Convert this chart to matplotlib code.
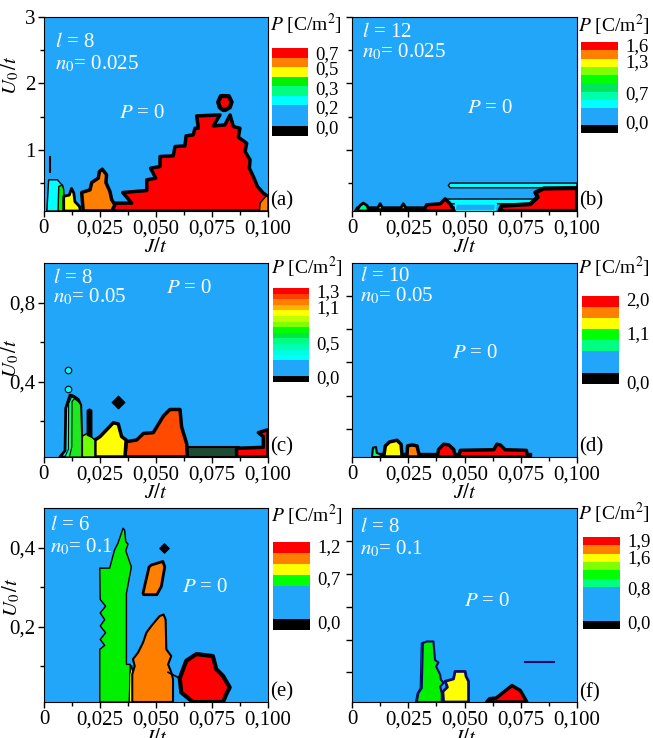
import numpy as np
import matplotlib.pyplot as plt
from matplotlib.colors import ListedColormap, BoundaryNorm
from matplotlib.cm import ScalarMappable

plt.rcParams['font.family'] = 'Liberation Serif'
plt.rcParams['mathtext.fontset'] = 'stix'
plt.rcParams['font.size'] = 15

W, H = 653, 738
BG = '#21a6fa'
RED, ORANGE, YELLOW = '#ff0000', '#ff8000', '#ffff00'
GREEN, SPRING, CYAN = '#00f000', '#00ff80', '#00ffff'
NAVY = '#0a0a60'

x_ticks = [0, 0.025, 0.05, 0.075, 0.1]
x_labels = ['0', '0,025', '0,050', '0,075', '0,100']
x_minor = [0.0125, 0.0375, 0.0625, 0.0875]

# panel parameters: (l, n0)
params = {'a': (8, '0.025'), 'b': (12, '0.025'), 'c': (8, '0.05'),
          'd': (10, '0.05'), 'e': (6, '0.1'), 'f': (8, '0.1')}

# y ranges and ticks
a_ylim, a_yticks, a_ylabels, a_yminor = (0.08, 3.0), [1, 2, 3], ['1', '2', '3'], [0.5, 1.5, 2.5]
c_ylim, c_yticks, c_ylabels, c_yminor = (0.02, 1.0), [0.4, 0.8], ['0,4', '0,8'], [0.2, 0.6]
d_ylim, d_yticks = (0.03, 1.2), [0.2, 0.4, 0.6, 0.8, 1.0]
e_ylim, e_yticks, e_ylabels, e_yminor = (0.01, 0.5), [0.2, 0.4], ['0,2', '0,4'], [0.1, 0.3]
f_ylim, f_yticks = (0.01, 0.6), [0.1, 0.2, 0.3, 0.4, 0.5]

# ---- region boundaries (J/t, U0/t) ----
a_red = [(0.031, 0.08), (0.031, 0.198), (0.0393, 0.198), (0.0353, 0.358), (0.046, 0.388),
         (0.046, 0.549), (0.050, 0.574), (0.0477, 0.724), (0.0519, 0.749), (0.0519, 0.9),
         (0.0578, 0.91), (0.0586, 1.05), (0.063, 1.06), (0.0635, 1.211), (0.0667, 1.226),
         (0.0675, 1.326), (0.069, 1.326), (0.0682, 1.511), (0.0786, 1.526), (0.0757, 1.361),
         (0.0808, 1.376), (0.0831, 1.526), (0.0846, 1.351), (0.0875, 1.326), (0.0868, 1.191),
         (0.0905, 1.1), (0.0898, 0.975), (0.092, 0.85), (0.0917, 0.724), (0.0938, 0.574),
         (0.0953, 0.449), (0.0979, 0.348), (0.1, 0.298), (0.1, 0.08)]
a_island = [(0.0785, 1.64), (0.0778, 1.72), (0.079, 1.81), (0.0825, 1.81), (0.0838, 1.72),
            (0.083, 1.64), (0.081, 1.60), (0.080, 1.60)]
a_orange_r = [(0.0962, 0.08), (0.0965, 0.2), (0.099, 0.30), (0.1, 0.30), (0.1, 0.08)]
a_orange = [(0.0177, 0.08), (0.017, 0.358), (0.0207, 0.398), (0.0215, 0.509), (0.0244, 0.574),
            (0.0249, 0.674), (0.0262, 0.709), (0.0281, 0.624), (0.0278, 0.509), (0.0296, 0.373),
            (0.0304, 0.248), (0.0318, 0.173), (0.0304, 0.08)]
a_cyan = [(0.0015, 0.08), (0.0023, 0.55), (0.0062, 0.55), (0.0082, 0.47), (0.0085, 0.08)]
a_green = [(0.0065, 0.08), (0.0068, 0.45), (0.0085, 0.47), (0.009, 0.40), (0.0095, 0.08)]
a_yellow = [(0.009, 0.08), (0.009, 0.30), (0.0115, 0.32), (0.0125, 0.42), (0.0135, 0.35),
            (0.014, 0.22), (0.016, 0.15), (0.0165, 0.08)]
a_mark_J, a_mark_U = [0.0029, 0.0029], [0.67, 0.90]

b_cyan_top = [(0.0436, 0.43), (0.0428, 0.465), (0.0436, 0.50), (0.1, 0.50), (0.1, 0.43)]
b_cyan_low = [(0.0425, 0.19), (0.0418, 0.225), (0.0425, 0.26), (0.083, 0.26), (0.08, 0.19)]
b_pocket = [(0.0455, 0.08), (0.0462, 0.19), (0.064, 0.19), (0.0635, 0.08)]
b_base = [(0.0012, 0.08), (0.0022, 0.14), (0.0454, 0.14), (0.0454, 0.08)]
b_bump_green = [(0.002, 0.08), (0.0035, 0.16), (0.005, 0.20), (0.0068, 0.16), (0.0075, 0.08)]
b_bump_yellow = [(0.011, 0.10), (0.0125, 0.19), (0.014, 0.10)]
b_bump_orange = [(0.0212, 0.10), (0.0228, 0.19), (0.0244, 0.10)]
b_red_left = [(0.0318, 0.08), (0.0332, 0.173), (0.0392, 0.188), (0.0414, 0.263),
              (0.0436, 0.188), (0.0454, 0.08)]
b_red_right = [(0.0655, 0.08), (0.0666, 0.158), (0.0792, 0.183), (0.0825, 0.288),
               (0.0815, 0.358), (0.0852, 0.419), (0.1, 0.425), (0.1, 0.08)]

c_dots_J, c_dots_U = [0.0111, 0.0108], [0.462, 0.361]
c_diamond_J, c_diamond_U = [0.0333], [0.296]
c_dark = [(0.0641, 0.02), (0.0641, 0.072), (0.087, 0.072), (0.087, 0.02)]
c_red = [(0.086, 0.02), (0.086, 0.064), (0.0979, 0.069), (0.0979, 0.123), (0.0957, 0.143),
         (0.0994, 0.156), (0.1, 0.156), (0.1, 0.02)]
c_orange = [(0.0363, 0.02), (0.0368, 0.097), (0.0415, 0.106), (0.0445, 0.139), (0.0489, 0.143),
            (0.0534, 0.227), (0.0563, 0.26), (0.0608, 0.26), (0.0615, 0.173), (0.0638, 0.086),
            (0.0641, 0.02)]
c_yellow = [(0.0229, 0.02), (0.0229, 0.106), (0.0252, 0.123), (0.0311, 0.193), (0.0333, 0.187),
            (0.0348, 0.123), (0.0368, 0.106), (0.0363, 0.02)]
c_lgreen = [(0.017, 0.02), (0.017, 0.123), (0.0195, 0.14), (0.0215, 0.12), (0.0229, 0.106),
            (0.0229, 0.02)]
c_bar = [(0.0195, 0.13), (0.0195, 0.255), (0.0205, 0.262), (0.0215, 0.255), (0.0215, 0.12)]
c_spike_cyan = [(0.0073, 0.02), (0.0096, 0.052), (0.0099, 0.266), (0.0118, 0.333), (0.0133, 0.328),
                (0.0155, 0.311), (0.0166, 0.282), (0.017, 0.123), (0.017, 0.02)]
c_spike_spring = [(0.0095, 0.02), (0.0111, 0.06), (0.0112, 0.29), (0.0125, 0.325), (0.0155, 0.305),
                  (0.0166, 0.282), (0.017, 0.123), (0.017, 0.02)]
c_spike_green = [(0.0115, 0.02), (0.0126, 0.07), (0.0127, 0.30), (0.0137, 0.315), (0.0155, 0.300),
                 (0.0166, 0.282), (0.017, 0.123), (0.017, 0.02)]

d_base = [(0.0126, 0.03), (0.0126, 0.055), (0.0795, 0.055), (0.0795, 0.03)]
d_spring = [(0.0089, 0.03), (0.0093, 0.086), (0.0107, 0.09), (0.011, 0.055), (0.0126, 0.046),
            (0.0129, 0.03)]
d_yellow = [(0.0141, 0.03), (0.0148, 0.097), (0.0167, 0.121), (0.020, 0.131), (0.0218, 0.107),
            (0.0222, 0.046), (0.0222, 0.03)]
d_orange = [(0.0244, 0.03), (0.0247, 0.097), (0.0267, 0.103), (0.0289, 0.097), (0.0296, 0.056),
            (0.030, 0.03)]
d_red1 = [(0.0378, 0.03), (0.0385, 0.076), (0.0407, 0.107), (0.043, 0.103), (0.0452, 0.076),
          (0.0459, 0.03)]
d_red2 = [(0.0474, 0.03), (0.0481, 0.07), (0.063, 0.074), (0.0644, 0.107), (0.0659, 0.103),
          (0.0681, 0.074), (0.0775, 0.07), (0.0781, 0.03)]

e_green = [(0.0249, 0.01), (0.0249, 0.143), (0.0271, 0.153), (0.0251, 0.168), (0.0275, 0.185),
           (0.0251, 0.202), (0.0271, 0.218), (0.0251, 0.235), (0.0275, 0.252), (0.0251, 0.269),
           (0.0249, 0.348), (0.0293, 0.348), (0.0315, 0.394), (0.033, 0.411), (0.0353, 0.449),
           (0.036, 0.444), (0.0365, 0.415), (0.0375, 0.409), (0.0365, 0.392), (0.039, 0.351),
           (0.0368, 0.285), (0.0368, 0.105), (0.0385, 0.105), (0.0381, 0.01)]
e_yellow = [(0.0381, 0.01), (0.0383, 0.08), (0.0392, 0.102), (0.0398, 0.08), (0.0396, 0.01)]
e_orange = [(0.0394, 0.01), (0.0394, 0.08), (0.0405, 0.101), (0.0397, 0.118), (0.042, 0.135),
            (0.0442, 0.16), (0.0457, 0.185), (0.0479, 0.202), (0.0516, 0.227), (0.0534, 0.231),
            (0.0543, 0.218), (0.0546, 0.143), (0.0568, 0.126), (0.0554, 0.105), (0.0568, 0.085),
            (0.0576, 0.068), (0.0576, 0.01)]
e_island = [(0.0442, 0.285), (0.0469, 0.351), (0.0479, 0.356), (0.0531, 0.365), (0.0539, 0.351),
            (0.0524, 0.302), (0.0504, 0.281), (0.0445, 0.281)]
e_red = [(0.0606, 0.07), (0.0635, 0.114), (0.068, 0.131), (0.0754, 0.126), (0.0769, 0.093),
         (0.0799, 0.076), (0.0829, 0.047), (0.0814, 0.03), (0.0799, 0.01), (0.0665, 0.01),
         (0.0613, 0.034)]
e_dot_J, e_dot_U = [0.0534], [0.40]
e_link_J, e_link_U = [0.0554, 0.0606], [0.085, 0.07]

f_strip = [(0.0282, 0.01), (0.029, 0.037), (0.0303, 0.052), (0.0308, 0.189), (0.0318, 0.192),
           (0.0318, 0.05), (0.0305, 0.037), (0.030, 0.01)]
f_green = [(0.0288, 0.01), (0.0295, 0.037), (0.031, 0.052), (0.0315, 0.189), (0.0332, 0.194),
           (0.0362, 0.194), (0.0369, 0.138), (0.0384, 0.13), (0.0374, 0.118), (0.0392, 0.093),
           (0.0395, 0.078), (0.0407, 0.068), (0.0392, 0.057), (0.0399, 0.037), (0.0399, 0.01)]
f_yellow = [(0.0407, 0.01), (0.0404, 0.042), (0.0424, 0.055), (0.0414, 0.073), (0.0451, 0.08),
            (0.0458, 0.103), (0.0503, 0.103), (0.0507, 0.088), (0.0518, 0.073), (0.0518, 0.01)]
f_red = [(0.0599, 0.01), (0.0611, 0.02), (0.0641, 0.022), (0.0711, 0.06), (0.0748, 0.045),
         (0.0777, 0.01)]
f_line_J, f_line_U = [0.0767, 0.0899], [0.131, 0.131]

# ---- colour scales (bottom to top) ----
cb_a_colors = ['black', BG, CYAN, SPRING, GREEN, YELLOW, ORANGE, RED]
cb_a_ticks = ['0,0', '0,2', '0,3', '0,5', '0,7']
cb_b_colors = ['black', BG, CYAN, '#00ffaa', '#00e65c', '#00ff00', '#80ff00', YELLOW, ORANGE, RED]
cb_b_ticks = ['0,0', '0,7', '1,3', '1,6']
cb_c_colors = ['black', BG, CYAN, '#00ffe0', '#00ffb0', '#00ff80', '#00e640', '#00ff00',
               '#80ff00', '#c0ff00', YELLOW, '#ffb000', ORANGE, '#ff4000', RED]
cb_c_ticks = ['0,0', '0,5', '1,1', '1,3']
cb_d_colors = ['black', BG, SPRING, '#00ff00', YELLOW, ORANGE, RED]
cb_d_ticks = ['0,0', '1,1', '2,0']
cb_e_colors = ['black', BG, '#00ff00', YELLOW, ORANGE, RED]
cb_e_ticks = ['0,0', '0,7', '1,2']
cb_f_colors = ['black', BG, SPRING, '#00ff00', '#80ff00', YELLOW, ORANGE, RED]
cb_f_ticks = ['0,0', '0,8', '1,6', '1,9']

fig = plt.figure(figsize=(W / 100, H / 100), dpi=100)


def px_rect(x0, y0, x1, y1):
    return [x0 / W, 1 - y1 / H, (x1 - x0) / W, (y1 - y0) / H]


def panel(rect, key, ylim, yticks, ylabels=None, yminor=None, ptext=(0.5, 0.5),
          lpos=(0.04, 0.9, 0.8), ylab_y=None):
    ax = fig.add_axes(px_rect(*rect))
    ax.set_facecolor(BG)
    ax.set_xlim(0, 0.1)
    ax.set_ylim(*ylim)
    ax.set_xticks(x_ticks)
    ax.set_xticklabels(x_labels)
    ax.set_xticks(x_minor, minor=True)
    ax.set_yticks(yticks)
    ax.set_yticklabels(ylabels if ylabels else [])
    if yminor:
        ax.set_yticks(yminor, minor=True)
    ax.tick_params(direction='out', length=4, width=1, pad=2)
    ax.tick_params(which='minor', direction='out', length=3, width=1)
    ax.set_xlabel(r'$J/t$', labelpad=0)
    if ylab_y is not None:
        ax.text(-0.145, ylab_y, r'$U_0\,/t$', rotation=90, transform=ax.transAxes,
                ha='center', va='center')
    l, n0 = params[key]
    ax.text(lpos[0], lpos[1], r'$l$ = %d' % l, color='white', transform=ax.transAxes,
            ha='left', va='center')
    ax.text(lpos[0], lpos[2], r'$n_0$= ' + n0, color='white', transform=ax.transAxes,
            ha='left', va='center')
    ax.text(ptext[0], ptext[1], r'$P$ = 0', color='white', transform=ax.transAxes,
            ha='center', va='center')
    ax.text(1.01, 0.05, '(%s)' % key, transform=ax.transAxes, ha='left', va='center')
    return ax


def region(ax, verts, color, ec='black', lw=2.0):
    js, us = zip(*verts)
    ax.fill(js, us, facecolor=color, edgecolor=ec, linewidth=lw, joinstyle='round')


def colorbar(rect, colors, heights, tick_pos, labels, title_xy):
    bounds = np.concatenate([[0], np.cumsum(heights)])
    cmap = ListedColormap(colors)
    norm = BoundaryNorm(bounds, cmap.N)
    cax = fig.add_axes(px_rect(*rect))
    cb = fig.colorbar(ScalarMappable(norm=norm, cmap=cmap), cax=cax,
                      spacing='proportional', ticks=tick_pos)
    cb.set_ticklabels(labels)
    cb.outline.set_visible(False)
    cax.minorticks_off()
    cax.tick_params(which='both', length=0, pad=5, labelsize=13.5)
    fig.text(title_xy[0] / W, 1 - title_xy[1] / H, r'$P$ [C/m$^2$]', ha='left', va='center',
             fontsize=14)


# (a)
ax = panel((43.5, 17, 268, 211), 'a', a_ylim, a_yticks, a_ylabels, a_yminor,
           ptext=(0.44, 0.50), lpos=(0.05, 0.866, 0.76), ylab_y=0.70)
region(ax, a_red, RED, lw=2.5)
region(ax, a_island, RED, lw=3)
region(ax, a_orange_r, ORANGE, lw=1)
region(ax, a_orange, ORANGE, lw=2.5)
region(ax, a_cyan, CYAN, lw=1)
region(ax, a_green, GREEN, lw=1)
region(ax, a_yellow, YELLOW, lw=2)
ax.plot(a_mark_J, a_mark_U, color='black', lw=1.5)

# (b)
ax = panel((352, 17, 577, 211), 'b', a_ylim, a_yticks, None, a_yminor,
           ptext=(0.613, 0.53), lpos=(0.044, 0.92, 0.82))
region(ax, b_cyan_top, CYAN, lw=1)
region(ax, b_cyan_low, CYAN, lw=1)
region(ax, b_pocket, BG, ec=CYAN, lw=1.5)
region(ax, b_base, 'black', lw=1)
region(ax, b_bump_green, SPRING, lw=2)
region(ax, b_bump_yellow, YELLOW, lw=2)
region(ax, b_bump_orange, ORANGE, lw=2)
region(ax, b_red_left, RED, lw=2.5)
region(ax, b_red_right, RED, lw=3)

# (c)
ax = panel((43.5, 263, 268, 457), 'c', c_ylim, c_yticks, c_ylabels, c_yminor,
           ptext=(0.65, 0.87), lpos=(0.042, 0.92, 0.825), ylab_y=0.51)
ax.scatter(c_dots_J, c_dots_U, s=22, marker='o', color=CYAN, edgecolor='black', lw=0.8, zorder=3)
ax.scatter(c_diamond_J, c_diamond_U, s=40, marker='D', color='black', zorder=3)
region(ax, c_dark, '#1e4a32', lw=1.5)
region(ax, c_red, RED, lw=2.5)
region(ax, c_orange, '#ff4a00', lw=2.5)
region(ax, c_yellow, YELLOW, lw=2.5)
region(ax, c_lgreen, '#70ff00', lw=1)
region(ax, c_bar, 'black', lw=1)
region(ax, c_spike_cyan, CYAN, lw=2)
region(ax, c_spike_spring, SPRING, lw=0.8)
region(ax, c_spike_green, '#20e820', lw=0.8)

# (d)
ax = panel((352, 263, 577, 457), 'd', d_ylim, d_yticks,
           ptext=(0.547, 0.536), lpos=(0.036, 0.93, 0.83))
region(ax, d_base, 'black', lw=1)
region(ax, d_spring, SPRING, lw=1.5)
region(ax, d_yellow, YELLOW, lw=2.5)
region(ax, d_orange, ORANGE, lw=2.5)
region(ax, d_red1, RED, lw=2.5)
region(ax, d_red2, RED, lw=2.5)

# (e)
ax = panel((44, 508, 268, 702), 'e', e_ylim, e_yticks, e_ylabels, e_yminor,
           ptext=(0.72, 0.59), lpos=(0.027, 0.91, 0.80), ylab_y=0.54)
region(ax, e_green, '#00f000', lw=1)
region(ax, e_yellow, YELLOW, lw=0.8)
region(ax, e_orange, ORANGE, lw=1.5)
region(ax, e_island, ORANGE, lw=2)
ax.plot(e_link_J, e_link_U, color='black', lw=1.2)
region(ax, e_red, RED, lw=3)
ax.scatter(e_dot_J, e_dot_U, s=22, marker='D', color='black', zorder=3)

# (f)
ax = panel((352, 508, 577, 702), 'f', f_ylim, f_yticks,
           ptext=(0.60, 0.52), lpos=(0.036, 0.90, 0.79))
region(ax, f_strip, SPRING, ec=NAVY, lw=0.8)
region(ax, f_green, '#00f000', ec=NAVY, lw=1.5)
region(ax, f_yellow, YELLOW, ec=NAVY, lw=2)
region(ax, f_red, RED, ec='black', lw=2.5)
ax.plot(f_line_J, f_line_U, color=NAVY, lw=1.5)

# colour scales
colorbar((272, 48, 308, 136), cb_a_colors, [1, 2.2, 1, 1, 1, 1, 1, 1],
         [0.95, 3.05, 5.1, 7.1, 8.7], cb_a_ticks, (270, 24))
colorbar((581, 42, 618, 133), cb_b_colors, [1, 2, 1, 1, 1, 1, 1, 1, 1, 1],
         [1.37, 4.84, 8.8, 10.65], cb_b_ticks, (578, 25))
colorbar((273, 288, 309, 382), cb_c_colors, [1, 3, 0.8] + [1] * 12,
         [0.9, 7.0, 13.5, 16.4], cb_c_ticks, (271, 267))
colorbar((582, 296, 619, 384), cb_d_colors, [1, 2, 1, 1, 1, 1, 1],
         [0.2, 4.7, 7.8], cb_d_ticks, (578, 267))
colorbar((273, 542, 310, 630), cb_e_colors, [1, 3, 1, 1, 1, 1],
         [0.73, 4.8, 7.7], cb_e_ticks, (271, 515))
colorbar((583, 537, 620, 629), cb_f_colors, [1, 4, 1, 1, 1, 1, 1, 1],
         [0.84, 5.0, 8.7, 10.65], cb_f_ticks, (578, 513))

fig.savefig('out.png', dpi=100)
